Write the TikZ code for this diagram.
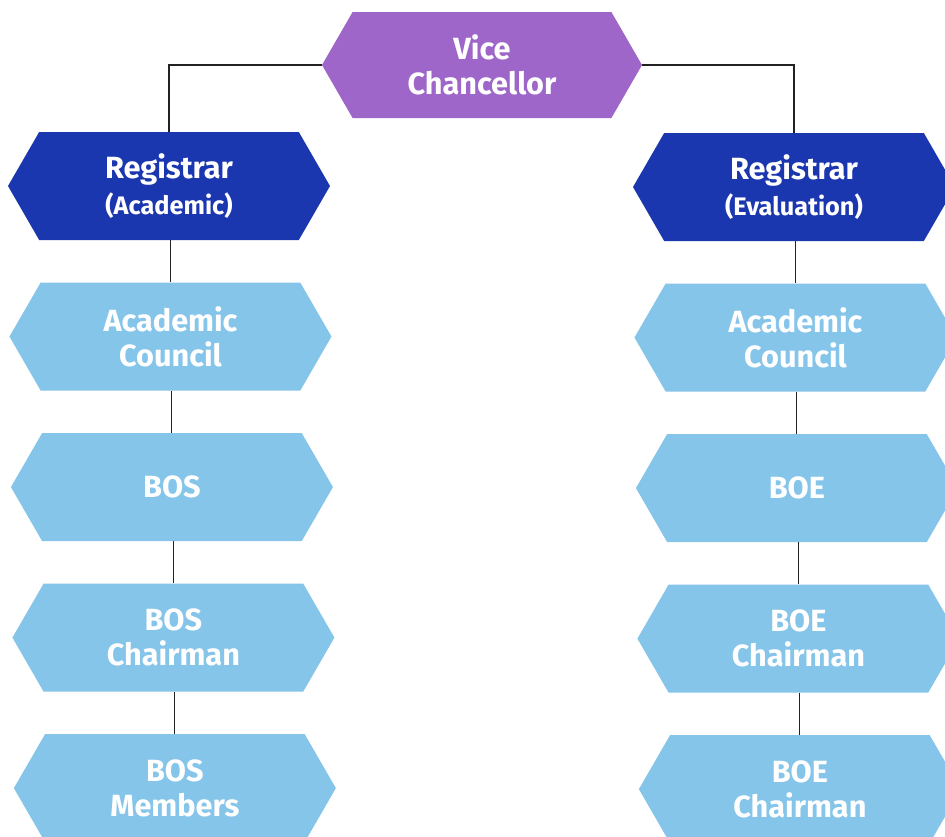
\documentclass[tikz,border=0pt]{standalone}
\usepackage{fontspec}
\setmainfont{Fira Sans}
\usepackage{tikz}
\usetikzlibrary{positioning,shapes.symbols}
\definecolor{VcPurple}{HTML}{9E66C9}
\definecolor{RegBlue}{HTML}{1B37AF}
\definecolor{BodyBlue}{HTML}{86C5EA}
\definecolor{LinkGray}{HTML}{222222}
\newcommand{\subline}[1]{{\fontsize{19}{23}\selectfont #1}}

\begin{document}
\begin{tikzpicture}[
    x=0.75pt, y=-0.75pt,
    font=\bfseries\fontsize{23}{26.5}\selectfont,
    hexbox/.style={shape=signal, signal to=west and east, signal pointer angle=120,
        minimum width=241.5pt, minimum height=81pt, inner sep=0pt, align=center, text=white},
    vcbox/.style={hexbox, fill=VcPurple, minimum width=240pt, minimum height=79.5pt},
    regbox/.style={hexbox, fill=RegBlue},
    bodybox/.style={hexbox, fill=BodyBlue, xshift=1.1pt},
    link/.style={draw=LinkGray, line width=0.8pt},
    node distance=31.5pt
]
\useasboundingbox (0,0) rectangle (945,836);
\fill[white] (0,0) rectangle (945,836);
\begin{scope}
\clip (0,0) rectangle (945,836);
% top of the chart
\node[vcbox] (vc) at (482,65) {Vice\\Chancellor};
\node[regbox] (regA) at (169,186) {Registrar\\\subline{(Academic)}};
\node[regbox] (regE) at (794,187) {Registrar\\\subline{(Evaluation)}};
% academic side
\node[bodybox, below=of regA] (councilA) {Academic\\Council};
\node[bodybox, below=of councilA] (bos) {BOS};
\node[bodybox, below=of bos] (bosChair) {BOS\\Chairman};
\node[bodybox, below=of bosChair] (bosMembers) {BOS\\Members};
% evaluation side
\node[bodybox, below=of regE] (councilE) {Academic\\Council};
\node[bodybox, below=of councilE] (boe) {BOE};
\node[bodybox, below=of boe] (boeChair) {BOE\\Chairman};
\node[bodybox, below=of boeChair] (boeChairB) {BOE\\Chairman};
% links
\draw[link] (vc.west) -| (regA.north);
\draw[link] (vc.east) -| (regE.north);
\foreach \a/\b in {regA/councilA,councilA/bos,bos/bosChair,bosChair/bosMembers,
                   regE/councilE,councilE/boe,boe/boeChair,boeChair/boeChairB}
    {\draw[link] (\a.south -| \b.north) -- (\b.north);}
\end{scope}
\end{tikzpicture}
\end{document}
